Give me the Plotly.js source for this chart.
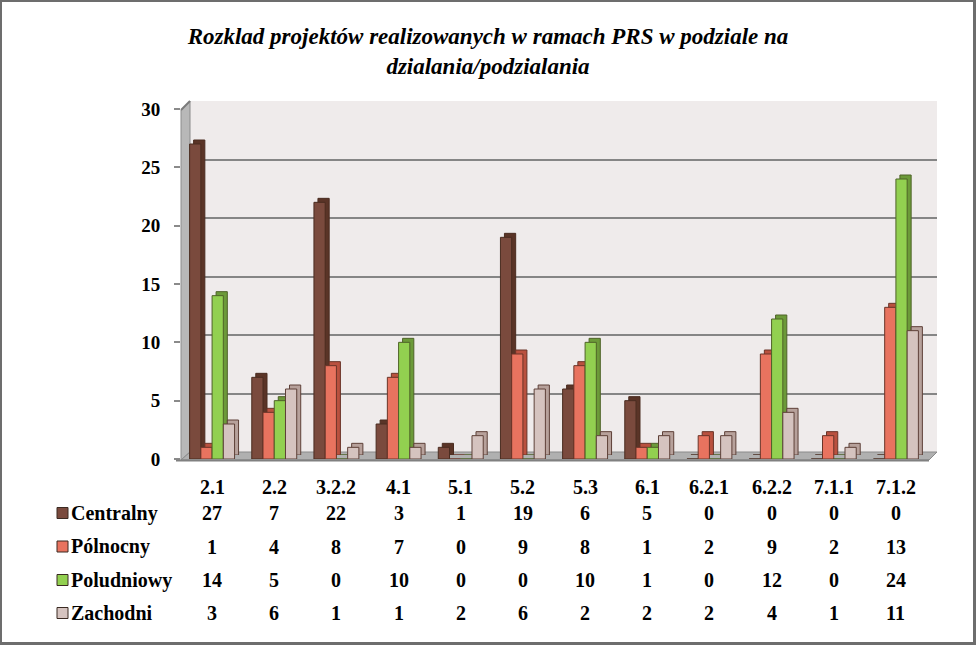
<!DOCTYPE html>
<html>
<head>
<meta charset="utf-8">
<script src="https://cdn.plot.ly/plotly-3.0.1.min.js"></script>
<style>
html,body{margin:0;padding:0;background:#fff;}
#chart{width:976px;height:645px;}
</style>
</head>
<body>
<div id="chart"></div>
<script>
// ---- data ----
const categories = ['2.1','2.2','3.2.2','4.1','5.1','5.2','5.3','6.1','6.2.1','6.2.2','7.1.1','7.1.2'];
const seriesNames = ['Centralny','Pólnocny','Poludniowy','Zachodni'];
const centralny  = [27,7,22,3,1,19,6,5,0,0,0,0];
const polnocny   = [1,4,8,7,0,9,8,1,2,9,2,13];
const poludniowy = [14,5,0,10,0,0,10,1,0,12,0,24];
const zachodni   = [3,6,1,1,2,6,2,2,2,4,1,11];
const yTicks = [0,5,10,15,20,25,30];
const titleText = 'Rozklad projektów realizowanych w ramach PRS w podziale na<br>dzialania/podzialania';

// ---- styling ----
const seriesValues = [centralny, polnocny, poludniowy, zachodni];
const frontColors  = ['#7a4a3d','#e8735f','#92d050','#d5c3bf'];
const depthColors  = ['#5a3427','#b9513f','#6c9a39','#b7a19b'];
const outlineColors= ['#4a2c20','#6a3428','#4f6228','#5e4038'];

const W = 976, H = 645;
const px = x => x / W;
const py = y => 1 - y / H;
const serif = '"Liberation Serif", "Times New Roman", Times, serif';

const traces = [];
// helper (invisible) trace so the back-wall subplot exists
traces.push({type:'scatter', x:categories, y:centralny, mode:'none', xaxis:'x', yaxis:'y',
  hoverinfo:'skip', showlegend:false});
// depth (3D top/side) bars
seriesValues.forEach((vals,i)=>{
  traces.push({type:'bar', x:categories, y:vals, xaxis:'x2', yaxis:'y2', name:seriesNames[i],
    marker:{color:depthColors[i], line:{color:outlineColors[i], width:1}},
    hoverinfo:'skip', showlegend:false});
});
// front bars
seriesValues.forEach((vals,i)=>{
  traces.push({type:'bar', x:categories, y:vals, xaxis:'x3', yaxis:'y3', name:seriesNames[i],
    marker:{color:frontColors[i], line:{color:outlineColors[i], width:1}},
    showlegend:false});
});

function poly(pts){
  return 'M' + pts.map(p => px(p[0]) + ',' + py(p[1])).join('L') + 'Z';
}

const shapes = [
  // back wall
  {type:'rect', xref:'paper', yref:'paper', x0:px(190), x1:px(937), y0:py(452), y1:py(101),
   fillcolor:'#efebeb', line:{width:0}, layer:'below'},
  // left side wall
  {type:'path', xref:'paper', yref:'paper', path:poly([[181,110],[190,101],[190,452],[181,460]]),
   fillcolor:'#b8b8b8', line:{color:'#8c8c8c', width:1}, layer:'below'},
  // floor
  {type:'path', xref:'paper', yref:'paper', path:poly([[181,460],[190,452],[937,452],[929,460]]),
   fillcolor:'#b0b0b0', line:{color:'#8a8a8a', width:1}, layer:'below'},
  // floor front edge
  {type:'line', xref:'paper', yref:'paper', x0:px(176), x1:px(929), y0:py(460.5), y1:py(460.5),
   line:{color:'#808080', width:2}, layer:'above'},
  // wall top edge diagonal
  {type:'line', xref:'paper', yref:'paper', x0:px(181), x1:px(190), y0:py(110), y1:py(101),
   line:{color:'#7a7a7a', width:2}, layer:'above'},
  // outer frame
  {type:'rect', xref:'paper', yref:'paper', x0:0, x1:px(2), y0:0, y1:1, fillcolor:'#6d6d6d', line:{width:0}},
  {type:'rect', xref:'paper', yref:'paper', x0:0, x1:1, y0:py(2), y1:1, fillcolor:'#6d6d6d', line:{width:0}},
  {type:'rect', xref:'paper', yref:'paper', x0:px(973), x1:1, y0:0, y1:1, fillcolor:'#6d6d6d', line:{width:0}},
  {type:'rect', xref:'paper', yref:'paper', x0:0, x1:1, y0:0, y1:py(642), fillcolor:'#6d6d6d', line:{width:0}}
];

// data table rows
const rowY = [513, 546.5, 580, 613];
const tableFont = {family:serif, size:20, color:'#000', weight:'bold'};
const annotations = [];
seriesNames.forEach((name,i)=>{
  shapes.push({type:'rect', xref:'paper', yref:'paper',
    x0:px(57), x1:px(68), y0:py(rowY[i]+5.5), y1:py(rowY[i]-5.5),
    fillcolor:frontColors[i], line:{color:'#3a2a22', width:1}});
  annotations.push({xref:'paper', yref:'paper', x:px(69), y:py(rowY[i]), xanchor:'left', yanchor:'middle',
    text:name, showarrow:false, font:tableFont});
  seriesValues[i].forEach((v,j)=>{
    annotations.push({xref:'x3', yref:'paper', x:j, y:py(rowY[i]), xanchor:'center', yanchor:'middle',
      text:String(v), showarrow:false, font:tableFont});
  });
});
categories.forEach((c,j)=>{
  annotations.push({xref:'x3', yref:'paper', x:j, y:py(487), xanchor:'center', yanchor:'middle',
    text:c, showarrow:false, font:tableFont});
});

const catAxis = {type:'category', categoryorder:'array', categoryarray:categories, range:[-0.5,11.5],
  showgrid:false, zeroline:false, showline:false, showticklabels:false, ticks:'', fixedrange:true};

const layout = {
  width:W, height:H, autosize:false,
  margin:{l:0,r:0,t:0,b:0,pad:0},
  paper_bgcolor:'#ffffff', plot_bgcolor:'rgba(0,0,0,0)',
  showlegend:false,
  barmode:'group', bargap:0.277, bargroupgap:0,
  title:{text:titleText, x:0.5, xref:'paper', xanchor:'center', y:py(44), yref:'container', yanchor:'middle',
    font:{family:serif, size:23, color:'#000', style:'italic', weight:'bold'}},
  xaxis:Object.assign({}, catAxis, {domain:[px(190),px(937)], anchor:'y'}),
  yaxis:{domain:[py(452),py(101)], range:[0,30], tickvals:yTicks, showgrid:true, gridcolor:'#858585', gridwidth:2,
    zeroline:false, showline:false, showticklabels:false, ticks:'', anchor:'x', fixedrange:true},
  xaxis2:Object.assign({}, catAxis, {domain:[px(185),px(931)], anchor:'y2'}),
  yaxis2:{domain:[py(455),py(105)], range:[0,30], showgrid:false, zeroline:false, showline:false,
    showticklabels:false, ticks:'', anchor:'x2', fixedrange:true},
  xaxis3:Object.assign({}, catAxis, {domain:[px(181),px(927)], anchor:'y3'}),
  yaxis3:{domain:[py(459),py(109)], range:[0,30], tickvals:yTicks, ticktext:yTicks.map(String),
    showgrid:false, zeroline:false, showline:false, ticks:'outside', ticklen:6, tickwidth:2, tickcolor:'#8a8a8a',
    ticklabelstandoff:10,
    tickfont:{family:serif, size:19, color:'#000', weight:'bold'}, anchor:'x3', fixedrange:true},
  shapes:shapes,
  annotations:annotations
};

Plotly.newPlot('chart', traces, layout, {displayModeBar:false, staticPlot:true});
</script>
</body>
</html>
